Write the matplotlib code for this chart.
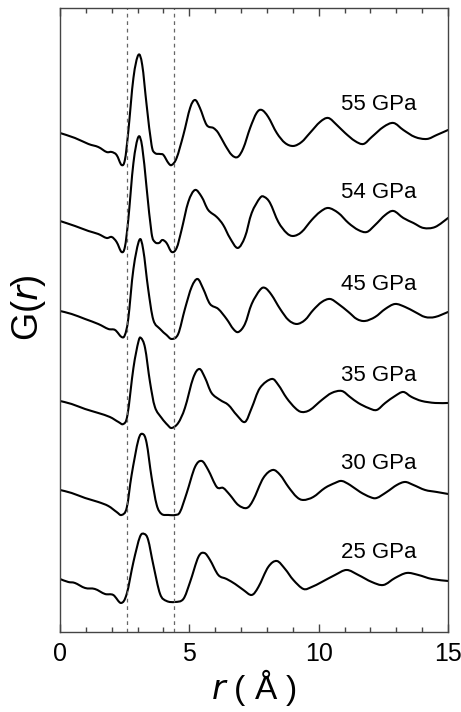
import numpy as np
import matplotlib
matplotlib.use("Agg")
import matplotlib.pyplot as plt
from matplotlib.path import Path
from matplotlib.patches import PathPatch
from matplotlib.ticker import MultipleLocator

plt.rcParams['font.family'] = ['Liberation Sans', 'DejaVu Sans']

# pressures, bottom to top
pressures = ["25 GPa", "30 GPa", "35 GPa", "45 GPa", "54 GPa", "55 GPa"]
spacing = 0.89     # vertical shift between curves
base = 0.54
dash_r = [2.6, 4.4]

r_25 = [0, 0.32, 0.58, 0.97, 1.35, 1.74, 2.06, 2.36, 2.58, 2.84, 3.09, 3.26, 3.41, 3.61,
        3.87, 4.12, 4.45, 4.77, 5.03, 5.35, 5.58, 5.8, 6.12, 6.44, 6.77, 7.09, 7.41, 7.67,
        8.05, 8.38, 8.7, 9.02, 9.41, 9.73, 10.12, 10.63, 11.08, 11.53, 12.05, 12.5, 12.95,
        13.4, 13.85, 14.37, 15.0]
g_25 = [-0.01, -0.04, -0.05, -0.10, -0.11, -0.16, -0.17, -0.25, -0.16, 0.16, 0.41, 0.44,
        0.38, 0.13, -0.16, -0.23, -0.24, -0.21, -0.04, 0.21, 0.25, 0.18, 0.03, -0.01, -0.06,
        -0.12, -0.17, -0.09, 0.11, 0.17, 0.09, -0.02, -0.11, -0.09, -0.04, 0.03, 0.08, 0.03,
        -0.04, -0.07, 0.00, 0.05, 0.03, -0.01, -0.03]

r_30 = [0, 0.45, 0.97, 1.48, 1.87, 2.19, 2.38, 2.58, 2.77, 3.03, 3.2, 3.35, 3.54, 3.74,
        3.93, 4.19, 4.45, 4.64, 4.9, 5.22, 5.48, 5.73, 6.06, 6.31, 6.57, 6.89, 7.22, 7.47,
        7.86, 8.22, 8.51, 8.83, 9.15, 9.41, 9.79, 10.24, 10.63, 10.89, 11.21, 11.6, 11.98,
        12.24, 12.63, 13.02, 13.34, 13.66, 14.11, 14.56, 15.0]
g_30 = [-0.01, -0.04, -0.09, -0.13, -0.17, -0.23, -0.26, -0.19, 0.14, 0.49, 0.55, 0.46,
        0.12, -0.16, -0.25, -0.26, -0.26, -0.23, -0.04, 0.22, 0.28, 0.19, 0.02, 0.01, -0.06,
        -0.16, -0.19, -0.11, 0.11, 0.19, 0.14, 0.02, -0.08, -0.11, -0.08, 0.01, 0.06, 0.08,
        0.04, -0.03, -0.08, -0.09, -0.03, 0.04, 0.07, 0.04, -0.01, -0.03, -0.05]

r_35 = [0, 0.45, 0.97, 1.48, 1.93, 2.26, 2.45, 2.61, 2.84, 3.03, 3.13, 3.29, 3.48, 3.67,
        3.93, 4.16, 4.32, 4.57, 4.83, 5.15, 5.39, 5.61, 5.86, 6.19, 6.51, 6.83, 7.15, 7.41,
        7.73, 8.18, 8.44, 8.76, 9.09, 9.34, 9.66, 10.12, 10.5, 10.89, 11.21, 11.53, 11.92,
        12.24, 12.57, 12.95, 13.27, 13.59, 13.98, 14.5, 15.0]
g_35 = [-0.01, -0.04, -0.09, -0.13, -0.17, -0.22, -0.24, -0.15, 0.32, 0.58, 0.62, 0.52,
        0.18, -0.07, -0.18, -0.25, -0.28, -0.23, -0.08, 0.22, 0.31, 0.22, 0.07, 0.00, -0.05,
        -0.15, -0.22, -0.08, 0.12, 0.21, 0.15, 0.02, -0.08, -0.12, -0.10, 0.00, 0.07, 0.09,
        0.03, -0.03, -0.08, -0.10, -0.03, 0.04, 0.08, 0.03, -0.01, -0.03, -0.03]

r_45 = [0, 0.45, 0.97, 1.48, 1.87, 2.13, 2.38, 2.51, 2.64, 2.84, 3.07, 3.22, 3.41, 3.61,
        3.87, 4.12, 4.32, 4.57, 4.83, 5.09, 5.32, 5.54, 5.8, 6.12, 6.44, 6.7, 6.9, 7.15,
        7.41, 7.73, 7.93, 8.18, 8.51, 8.83, 9.15, 9.47, 9.79, 10.12, 10.44, 10.76, 11.15,
        11.47, 11.79, 12.18, 12.57, 12.95, 13.34, 13.72, 14.11, 14.5, 15.0]
g_45 = [0.00, -0.03, -0.08, -0.13, -0.18, -0.19, -0.26, -0.24, -0.08, 0.42, 0.71, 0.61,
        0.22, -0.09, -0.18, -0.24, -0.28, -0.23, 0.02, 0.24, 0.32, 0.22, 0.07, 0.02, -0.08,
        -0.18, -0.21, -0.13, 0.07, 0.21, 0.23, 0.16, 0.02, -0.09, -0.13, -0.09, 0.01, 0.09,
        0.12, 0.07, -0.01, -0.08, -0.10, -0.06, 0.02, 0.07, 0.04, -0.01, -0.06, -0.06, -0.01]

r_54 = [0, 0.58, 1.1, 1.48, 1.8, 2.0, 2.19, 2.38, 2.51, 2.64, 2.84, 3.03, 3.18, 3.35, 3.54,
        3.67, 3.83, 3.96, 4.12, 4.32, 4.51, 4.7, 4.96, 5.22, 5.48, 5.73, 6.06, 6.31, 6.57,
        6.87, 7.15, 7.41, 7.73, 7.9, 8.12, 8.44, 8.76, 9.02, 9.34, 9.73, 10.05, 10.37, 10.76,
        11.15, 11.53, 11.86, 12.18, 12.57, 12.89, 13.27, 13.66, 14.05, 14.5, 15.0]
g_54 = [0.01, -0.04, -0.09, -0.12, -0.16, -0.15, -0.20, -0.30, -0.25, 0.02, 0.59, 0.85,
        0.75, 0.34, -0.11, -0.20, -0.21, -0.18, -0.21, -0.30, -0.26, -0.08, 0.20, 0.32, 0.25,
        0.12, 0.05, -0.03, -0.16, -0.26, -0.15, 0.09, 0.24, 0.25, 0.19, 0.00, -0.11, -0.14,
        -0.10, 0.02, 0.10, 0.14, 0.09, -0.01, -0.08, -0.10, -0.03, 0.07, 0.11, 0.04, -0.01,
        -0.06, -0.05, 0.04]

r_55 = [0, 0.58, 1.1, 1.48, 1.8, 2.0, 2.19, 2.38, 2.51, 2.64, 2.84, 3.03, 3.18, 3.35, 3.54,
        3.67, 3.87, 4.0, 4.19, 4.32, 4.51, 4.77, 5.03, 5.22, 5.41, 5.67, 5.93, 6.12, 6.38,
        6.64, 6.87, 7.09, 7.35, 7.6, 7.8, 8.05, 8.38, 8.7, 9.02, 9.34, 9.66, 10.05, 10.37,
        10.7, 11.02, 11.4, 11.73, 12.05, 12.5, 12.89, 13.27, 13.72, 14.18, 14.56, 15.0]
g_55 = [0.00, -0.05, -0.11, -0.14, -0.19, -0.19, -0.22, -0.32, -0.27, 0.01, 0.55, 0.78,
        0.68, 0.28, -0.12, -0.20, -0.21, -0.22, -0.30, -0.32, -0.25, -0.02, 0.25, 0.33, 0.25,
        0.08, 0.05, 0.00, -0.12, -0.22, -0.24, -0.15, 0.05, 0.20, 0.23, 0.16, 0.00, -0.10,
        -0.13, -0.09, 0.00, 0.11, 0.15, 0.08, 0.00, -0.08, -0.11, -0.04, 0.06, 0.10, 0.03,
        -0.04, -0.06, -0.02, 0.03]

curves = [(r_25, g_25), (r_30, g_30), (r_35, g_35), (r_45, g_45), (r_54, g_54), (r_55, g_55)]
label_dy = [0.25, 0.25, 0.24, 0.26, 0.29, 0.285]


def smooth_path(x, y):
    # cubic bezier through every read point (catmull-rom style handles)
    p = np.column_stack([x, y])
    ext = np.vstack([p[0], p, p[-1]])
    verts = [p[0]]
    codes = [Path.MOVETO]
    for i in range(1, len(ext) - 2):
        p0, p1, p2, p3 = ext[i - 1], ext[i], ext[i + 1], ext[i + 2]
        verts += [p1 + (p2 - p0) / 6, p2 - (p3 - p1) / 6, p2]
        codes += [Path.CURVE4] * 3
    return Path(verts, codes)


fig = plt.figure(figsize=(4.61, 7.12), dpi=100)
ax = fig.add_axes([0.130, 0.1124, 0.842, 0.8764])

for x in dash_r:
    ax.axvline(x, color='#666666', lw=0.9, ls=(0, (3, 3)))

for k, (r, g) in enumerate(curves):
    off = base + spacing * k
    ax.add_patch(PathPatch(smooth_path(r, np.array(g) + off), fill=False,
                           edgecolor='black', lw=1.5, capstyle='round', joinstyle='round'))
    ax.text(12.33, off + label_dy[k], pressures[k], fontsize=16, ha='center', va='center')

ax.set_xlim(0, 15)
ax.set_ylim(0, 6.24)
ax.set_yticks([])
ax.xaxis.set_major_locator(MultipleLocator(5))
ax.xaxis.set_minor_locator(MultipleLocator(1))
ax.tick_params(axis='x', which='both', direction='in', top=True, bottom=True,
               labelsize=18, color='#444444', pad=7)
ax.tick_params(axis='x', which='major', length=6, width=1)
ax.tick_params(axis='x', which='minor', length=3.5, width=1)
for s in ax.spines.values():
    s.set_color('#444444')
    s.set_linewidth(1)

ax.set_xlabel(r'$r$ ( Å )', fontsize=24, labelpad=1)
ax.set_ylabel(r'G($r$)', fontsize=26)
ax.yaxis.set_label_coords(-0.03, 0.52)

fig.savefig('out.png', dpi=100)
